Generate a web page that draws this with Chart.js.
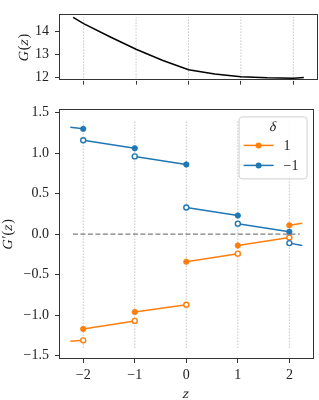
<!DOCTYPE html>
<html lang="en">
<head>
<meta charset="UTF-8">
<title>G(z) and G'(z)</title>
<script src="https://cdn.jsdelivr.net/npm/chart.js"></script>
<style>
    body { margin: 0; background: #fff; }
    #wrap { position: relative; width: 319px; height: 400px; }
    canvas { position: absolute; left: 0; }
</style>
</head>
<body>
<div id="wrap">
    <canvas id="topChart" width="319" height="95" style="top:0px"></canvas>
    <canvas id="bottomChart" width="319" height="305" style="top:95px"></canvas>
</div>

<script>
// ---- data ----
const zTicks = [-2, -1, 0, 1, 2];
const zRange = [-2.47, 2.47];

// top panel: G(z)
const gZ   = [-2.2, -2, -1.5, -1, -0.5, 0, 0.5, 1, 1.5, 2, 2.2];
const gVal = [14.6, 14.33, 13.76, 13.22, 12.74, 12.33, 12.15, 12.03, 11.98, 11.96, 11.99];
const gTicks = [12, 13, 14];
const gRange = [11.86, 14.73];

// bottom panel: G'(z), one straight piece per interval
const segStart = [-2.25, -2, -1, 0, 1, 2];
const segEnd   = [-2, -1, 0, 1, 2, 2.25];
const minusStart = [1.32, 1.16, 0.96, 0.33, 0.13, -0.11];   // delta = -1
const minusEnd   = [1.30, 1.06, 0.86, 0.23, 0.03, -0.14];
const plusStart  = [-1.32, -1.17, -0.96, -0.34, -0.14, 0.11]; // delta = 1
const plusEnd    = [-1.31, -1.07, -0.87, -0.24, -0.04, 0.135];
const dTicks = [-1.5, -1, -0.5, 0, 0.5, 1, 1.5];
const dRange = [-1.54, 1.54];
const zeroLine = [-2.2, 2.2];
const legendLabels = ["1", "\u22121"];

const BLUE = "#1f77b4";
const ORANGE = "#ff7f0e";
const FONT = "'Liberation Serif', 'DejaVu Serif', serif";

function fmt1(v) {
    return (v < 0 ? "\u2212" : "") + Math.abs(v).toFixed(1);
}

function segments(starts, ends) {
    const pts = [];
    for (let i = 0; i < starts.length; i++) {
        pts.push({ x: segStart[i], y: starts[i] });
        pts.push({ x: segEnd[i], y: ends[i] });
        pts.push({ x: segEnd[i], y: null });
    }
    return pts;
}

function verticals(lo, hi) {
    const pts = [];
    zTicks.forEach(z => {
        pts.push({ x: z, y: lo }, { x: z, y: hi }, { x: z, y: null });
    });
    return pts;
}

// math-ish label: slanted letters, upright brackets and primes
function drawMath(ctx, parts, cx, cy, rotate) {
    ctx.save();
    ctx.translate(cx, cy);
    if (rotate) ctx.rotate(-Math.PI / 2);
    ctx.textBaseline = "middle";
    ctx.textAlign = "left";
    ctx.fillStyle = "#222";
    ctx.font = "14px " + FONT;
    let total = 0;
    parts.forEach(p => { total += ctx.measureText(p[0]).width + (p[1] ? 0.8 : 0); });
    let x = -total / 2;
    parts.forEach(p => {
        const w = ctx.measureText(p[0]).width;
        if (p[1]) {
            ctx.save();
            ctx.translate(x, 0);
            ctx.transform(1, 0, -0.22, 1, 0, 0);
            ctx.fillText(p[0], 0, 0);
            ctx.restore();
            x += w + 0.8;
        } else {
            ctx.fillText(p[0], x, 0);
            x += w;
        }
    });
    ctx.restore();
}

const framePlugin = {
    id: "frame",
    afterDraw(chart) {
        const a = chart.chartArea;
        const ctx = chart.ctx;
        ctx.save();
        ctx.strokeStyle = "#333";
        ctx.lineWidth = 1;
        ctx.strokeRect(Math.round(a.left) + 0.5, Math.round(a.top) + 0.5,
            Math.round(a.right - a.left) - 1, Math.round(a.bottom - a.top) - 1);
        ctx.restore();
    }
};

function titlesPlugin(yParts, yX, withX) {
    return {
        id: "titles",
        afterDraw(chart) {
            const a = chart.chartArea;
            drawMath(chart.ctx, yParts, yX, (a.top + a.bottom) / 2, true);
            if (withX) drawMath(chart.ctx, [["z", true]], (a.left + a.right) / 2, a.bottom + 35, false);
        }
    };
}

function xScale(showLabels, height) {
    return {
        type: "linear",
        min: zRange[0], max: zRange[1],
        afterBuildTicks: s => { s.ticks = zTicks.map(v => ({ value: v })); },
        afterFit: s => { s.height = height; },
        grid: { drawOnChartArea: false, drawTicks: true, tickLength: 4, color: "#333", lineWidth: 1 },
        border: { display: false },
        ticks: {
            autoSkip: false, maxRotation: 0, padding: 4, color: "#222",
            font: { family: FONT, size: 14 },
            callback: v => showLabels ? (v < 0 ? "\u2212" : "") + Math.abs(v) : ""
        }
    };
}

function yScale(range, ticks, fmt) {
    return {
        type: "linear",
        min: range[0], max: range[1],
        afterBuildTicks: s => { s.ticks = ticks.map(v => ({ value: v })); },
        afterFit: s => { s.width = 59; },
        grid: { drawOnChartArea: false, drawTicks: true, tickLength: 4, color: "#333", lineWidth: 1 },
        border: { display: false },
        ticks: { padding: 6, color: "#222", font: { family: FONT, size: 14 }, callback: fmt }
    };
}

// ---- top chart ----
new Chart(document.getElementById("topChart"), {
    type: "scatter",
    data: {
        datasets: [
            {
                data: gZ.map((z, i) => ({ x: z, y: gVal[i] })),
                showLine: true, borderColor: "#000", borderWidth: 1.5, pointRadius: 0, order: 1
            },
            {
                data: verticals(gRange[0], 14.62),
                showLine: true, borderColor: "#a8a8a8", borderWidth: 1, borderDash: [1, 2],
                pointRadius: 0, spanGaps: false, order: 2
            }
        ]
    },
    options: {
        responsive: false, animation: false, devicePixelRatio: 1,
        layout: { padding: { top: 1, right: 1, left: 0, bottom: 0 } },
        plugins: { legend: { display: false }, tooltip: { enabled: false } },
        scales: {
            x: xScale(false, 10),
            y: yScale(gRange, gTicks, v => String(v))
        }
    },
    plugins: [framePlugin, titlesPlugin([["G", true], ["(", false], ["z", true], [")", false]], 24.5, false)]
});

// ---- bottom chart ----
const legendPlugin = {
    id: "boxLegend",
    afterDraw(chart) {
        const a = chart.chartArea;
        const ctx = chart.ctx;
        const w = 68, h = 62;
        const x0 = a.right - 7 - w, y0 = a.top + 7;
        ctx.save();
        ctx.beginPath();
        ctx.roundRect(x0 + 0.5, y0 + 0.5, w, h, 3);
        ctx.fillStyle = "rgba(255,255,255,0.85)";
        ctx.fill();
        ctx.strokeStyle = "#d0d0d0";
        ctx.lineWidth = 1;
        ctx.stroke();
        ctx.restore();

        drawMath(ctx, [["\u03b4", true]], x0 + 35, y0 + 11, false);

        ctx.save();
        ctx.textBaseline = "middle";
        [ORANGE, BLUE].forEach((c, i) => {
            const yy = y0 + 29 + i * 20;
            ctx.strokeStyle = c;
            ctx.lineWidth = 1.5;
            ctx.beginPath();
            ctx.moveTo(x0 + 5, yy);
            ctx.lineTo(x0 + 35, yy);
            ctx.stroke();
            ctx.beginPath();
            ctx.arc(x0 + 20, yy, 3, 0, Math.PI * 2);
            ctx.fillStyle = c;
            ctx.fill();
            ctx.fillStyle = "#222";
            ctx.textAlign = "left";
            ctx.font = "14px " + FONT;
            ctx.fillText(legendLabels[i], x0 + 45, yy + 1);
        });
        ctx.restore();
    }
};

function markers(xs, ys, color, filled, order) {
    return {
        data: xs.map((x, i) => ({ x: x, y: ys[i] })),
        showLine: false,
        pointRadius: filled ? 2.7 : 2.5,
        pointBorderWidth: filled ? 0.8 : 1.4,
        pointBackgroundColor: filled ? color : "#fff",
        pointBorderColor: color,
        order: order
    };
}

new Chart(document.getElementById("bottomChart"), {
    type: "scatter",
    data: {
        datasets: [
            {
                data: verticals(-1.4, 1.39),
                showLine: true, borderColor: "#a8a8a8", borderWidth: 1, borderDash: [1, 2],
                pointRadius: 0, spanGaps: false, order: 9
            },
            {
                data: [{ x: zeroLine[0], y: 0 }, { x: zeroLine[1], y: 0 }],
                showLine: true, borderColor: "#7f7f7f", borderWidth: 1.3, borderDash: [5, 2.5],
                pointRadius: 0, order: 8
            },
            {
                data: segments(plusStart, plusEnd),
                showLine: true, borderColor: ORANGE, borderWidth: 1.5, pointRadius: 0,
                spanGaps: false, order: 7
            },
            markers(segStart.slice(1), plusStart.slice(1), ORANGE, true, 6),
            markers(segEnd.slice(0, 5), plusEnd.slice(0, 5), ORANGE, false, 5),
            {
                data: segments(minusStart, minusEnd),
                showLine: true, borderColor: BLUE, borderWidth: 1.5, pointRadius: 0,
                spanGaps: false, order: 4
            },
            markers(segEnd.slice(0, 5), minusEnd.slice(0, 5), BLUE, true, 3),
            markers(segStart.slice(1), minusStart.slice(1), BLUE, false, 2)
        ]
    },
    options: {
        responsive: false, animation: false, devicePixelRatio: 1,
        layout: { padding: { top: 7, right: 1, left: 0, bottom: 0 } },
        plugins: { legend: { display: false }, tooltip: { enabled: false } },
        scales: {
            x: xScale(true, 41),
            y: yScale(dRange, dTicks, fmt1)
        }
    },
    plugins: [framePlugin, legendPlugin, titlesPlugin([["G", true], ["\u2032", false], ["(", false], ["z", true], [")", false]], 8, true)]
});
</script>
</body>
</html>
